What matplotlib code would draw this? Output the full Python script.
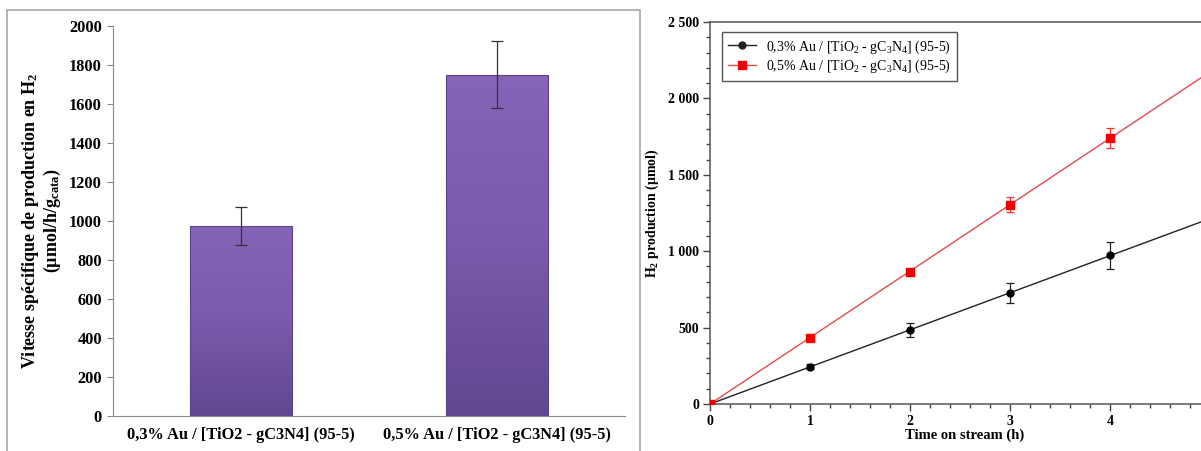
import numpy as np
import matplotlib
matplotlib.use("Agg")
import matplotlib.pyplot as plt
from matplotlib.patches import Rectangle
from matplotlib.colors import LinearSegmentedColormap
from matplotlib.ticker import MultipleLocator, FuncFormatter

plt.rcParams['font.family'] = ['Liberation Serif', 'DejaVu Serif']
plt.rcParams['mathtext.fontset'] = 'custom'
plt.rcParams['mathtext.rm'] = 'Liberation Serif'
plt.rcParams['mathtext.bf'] = 'Liberation Serif:bold'

# bar chart data
catalysts = ['0,3% Au / [TiO2 - gC3N4] (95-5)', '0,5% Au / [TiO2 - gC3N4] (95-5)']
rates = [972, 1748]
rates_err = [97, 172]

# time on stream data
hours = [0, 1, 2, 3, 4]
h2_03 = [0, 244, 484, 727, 972]
h2_03_err = [0, 15, 46, 66, 87]
h2_05 = [0, 433, 866, 1305, 1741]
h2_05_err = [0, 10, 20, 47, 63]
legend_labels = [r'0,3% Au / [TiO$\mathregular{_2}$ - gC$\mathregular{_3}$N$\mathregular{_4}$] (95-5)',
                 r'0,5% Au / [TiO$\mathregular{_2}$ - gC$\mathregular{_3}$N$\mathregular{_4}$] (95-5)']

W, H = 1201, 451
fig = plt.figure(figsize=(W / 100, H / 100), dpi=100)

def box(l, r, b, t):
    return [l / W, (H - b) / H, (r - l) / W, (b - t) / H]

# frame around the left chart
fig.patches.append(Rectangle((7 / W, -0.05), (640 - 7) / W, 1.05 - 10 / H,
                             transform=fig.transFigure, fill=False,
                             edgecolor='#a6a6a6', lw=1.2))

# ---- left: bar chart ----
ax1 = fig.add_axes(box(113, 625, 416, 25.7))
x = np.arange(len(catalysts))
bars = ax1.bar(x, rates, width=0.4, color='none', edgecolor='#5b4385', lw=0.8, zorder=3)
cmap = LinearSegmentedColormap.from_list('purp', ['#614790', '#7a5aab', '#8664b8'])
grad = np.linspace(0, 1, 256).reshape(-1, 1)
for b in bars:
    im = ax1.imshow(grad, cmap=cmap, origin='lower', aspect='auto', zorder=2,
                    extent=[b.get_x(), b.get_x() + b.get_width(), 0, b.get_height()])
    im.set_clip_path(b)
ax1.errorbar(x, rates, yerr=rates_err, fmt='none', ecolor='#333333', elinewidth=0.9,
             capsize=4, capthick=0.9, zorder=4)
ax1.set_xlim(-0.5, 1.5)
ax1.set_ylim(0, 2000)
ax1.set_yticks(range(0, 2001, 200))
ax1.set_xticks(x)
ax1.set_xticklabels(catalysts, fontsize=11.8, fontweight='bold')
ax1.tick_params(axis='x', length=0, pad=8)
ax1.tick_params(axis='y', labelsize=11.8, length=4, color='#888888', pad=4)
for t in ax1.get_yticklabels():
    t.set_fontweight('bold')
for s in ['top', 'right']:
    ax1.spines[s].set_visible(False)
for s in ['left', 'bottom']:
    ax1.spines[s].set_color('#8c8c8c')
ax1.set_ylabel('Vitesse spécifique de production en H$\\mathbf{_2}$\n'
               '(µmol/h/g$\\mathbf{_{cata}}$)', fontsize=13, fontweight='bold',
               labelpad=4, linespacing=1.05)

# ---- right: H2 production vs time ----
ax2 = fig.add_axes(box(710, 1220, 404, 22))
t_fit = np.linspace(0, 6, 50)
k03 = np.sum(np.multiply(hours, h2_03)) / np.sum(np.square(hours))
k05 = np.sum(np.multiply(hours, h2_05)) / np.sum(np.square(hours))
ax2.plot(t_fit, k03 * t_fit, color='#222222', lw=1.0, zorder=2)
ax2.plot(t_fit, k05 * t_fit, color='#e24b4e', lw=1.0, zorder=2)
ax2.errorbar(hours, h2_03, yerr=h2_03_err, fmt='o', color='black', ms=5,
             ecolor='#222222', elinewidth=0.9, capsize=3, capthick=0.9, zorder=3)
ax2.errorbar(hours, h2_05, yerr=h2_05_err, fmt='s', color='#ee0000', ms=6,
             ecolor='#ee3333', elinewidth=0.9, capsize=3, capthick=0.9, zorder=3)
ax2.set_xlim(0, 5.1)
ax2.set_ylim(0, 2500)
# only the ticks that are visible in the cropped picture get labels
ax2.set_xticks(hours)
ax2.xaxis.set_minor_locator(MultipleLocator(0.2))
ax2.yaxis.set_major_locator(MultipleLocator(500))
ax2.yaxis.set_minor_locator(MultipleLocator(100))
ax2.yaxis.set_major_formatter(FuncFormatter(lambda v, p: f'{int(v):,}'.replace(',', ' ')))
ax2.tick_params(which='major', length=5, width=1, color='#444444', labelsize=10, pad=3)
ax2.tick_params(which='minor', length=3, width=1, color='#444444')
for t in ax2.get_xticklabels() + ax2.get_yticklabels():
    t.set_fontweight('bold')
for s in ax2.spines.values():
    s.set_color('#555555')
    s.set_linewidth(1.1)
ax2.set_xlabel('Time on stream (h)', fontsize=10.5, fontweight='bold', labelpad=0)
ax2.set_ylabel('H$\\mathbf{_2}$ production (µmol)', fontsize=10, fontweight='bold', labelpad=5)

h1 = plt.Line2D([], [], color='#222222', marker='o', ms=5, lw=1.0)
h2 = plt.Line2D([], [], color='#e24b4e', marker='s', mfc='#ee0000', mec='#ee0000', ms=6, lw=1.0)
leg = ax2.legend([h1, h2], legend_labels, loc='upper left', bbox_to_anchor=(0.0235, 0.974),
                 borderaxespad=0, fancybox=False, framealpha=1, edgecolor='#555555',
                 fontsize=10, handlelength=2.0, labelspacing=0.15, borderpad=0.45,
                 handletextpad=0.7)
leg.get_frame().set_linewidth(1.0)

fig.savefig('out.png', dpi=100)
